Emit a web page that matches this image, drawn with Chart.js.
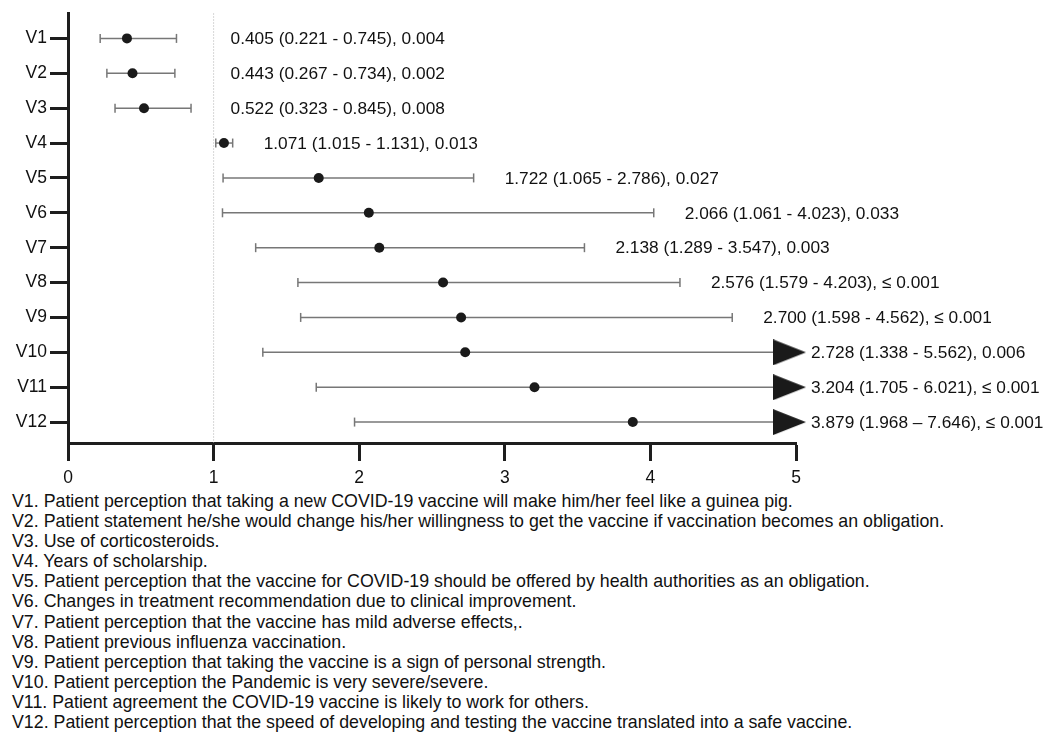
<!DOCTYPE html>
<html><head><meta charset="utf-8">
<script src="https://cdn.jsdelivr.net/npm/chart.js@4"></script>
<style>
html,body{margin:0;padding:0;background:#fff;width:1048px;height:734px;overflow:hidden;}
#wrap{position:absolute;left:0;top:0;width:1048px;height:490px;}
#notes{position:absolute;left:12px;top:491px;font-family:"Liberation Sans",Arial,sans-serif;font-size:17.8px;line-height:20.1px;color:#111;white-space:nowrap;}
</style></head><body>
<div id="wrap"><canvas id="c" width="1048" height="490"></canvas></div>
<div id="notes"></div>
<script>
const categories = ['V1','V2','V3','V4','V5','V6','V7','V8','V9','V10','V11','V12'];
const oddsRatio = [0.405,0.443,0.522,1.071,1.722,2.066,2.138,2.576,2.700,2.728,3.204,3.879];
const ciLower   = [0.221,0.267,0.323,1.015,1.065,1.061,1.289,1.579,1.598,1.338,1.705,1.968];
const ciUpper   = [0.745,0.734,0.845,1.131,2.786,4.023,3.547,4.203,4.562,5.562,6.021,7.646];
const pValues   = ['0.004','0.002','0.008','0.013','0.027','0.033','0.003','≤ 0.001','≤ 0.001','0.006','≤ 0.001','≤ 0.001'];
const rangeSeparators = ['-','-','-','-','-','-','-','-','-','-','-','–'];
const xTickValues = [0,1,2,3,4,5];
const referenceValue = 1;
const descriptions = [
 'V1. Patient perception that taking a new COVID-19 vaccine will make him/her feel like a guinea pig.',
 'V2. Patient statement he/she would change his/her willingness to get the vaccine if vaccination becomes an obligation.',
 'V3. Use of corticosteroids.',
 'V4. Years of scholarship.',
 'V5. Patient perception that the vaccine for COVID-19 should be offered by health authorities as an obligation.',
 'V6. Changes in treatment recommendation due to clinical improvement.',
 'V7. Patient perception that the vaccine has mild adverse effects,.',
 'V8. Patient previous influenza vaccination.',
 'V9. Patient perception that taking the vaccine is a sign of personal strength.',
 'V10. Patient perception the Pandemic is very severe/severe.',
 'V11. Patient agreement the COVID-19 vaccine is likely to work for others.',
 'V12. Patient perception that the speed of developing and testing the vaccine translated into a safe vaccine.'
];

document.getElementById('notes').innerHTML = descriptions.map(d => '<div>' + d.replace(/&/g,'&amp;').replace(/</g,'&lt;') + '</div>').join('');

const X_MIN = 0, X_MAX = 5, Y_MIN = 0.286, Y_MAX = 12.6;
const FONT = '"Liberation Sans", Arial, sans-serif';
const AXIS = '#1e1e1e';
const CI_COLOR = '#777777';

// arrow head image for truncated intervals
const arrow = document.createElement('canvas');
arrow.width = 46; arrow.height = 26;
(function(){
  const g = arrow.getContext('2d');
  g.fillStyle = '#1a1a1a';
  g.beginPath(); g.moveTo(0,0); g.lineTo(33,13); g.lineTo(0,26); g.closePath(); g.fill();
})();

const datasets = [];
datasets.push({
  type:'scatter', order:0, clip:false,
  data: oddsRatio.map((v,i)=>({x:v,y:i+1})),
  pointRadius:5, pointBackgroundColor:'#1a1a1a', pointBorderColor:'#1a1a1a', pointBorderWidth:0,
  pointHoverRadius:5
});
categories.forEach((c,i)=>{
  const truncated = ciUpper[i] > X_MAX;
  datasets.push({
    type:'scatter', order:1, clip:false, showLine:true,
    data:[{x:ciLower[i],y:i+1},{x:Math.min(ciUpper[i],X_MAX),y:i+1}],
    borderColor:CI_COLOR, borderWidth:1.5,
    pointStyle: ['line', truncated ? arrow : 'line'],
    pointRotation: [90, truncated ? 0 : 90],
    pointRadius:4.5, pointBorderColor:CI_COLOR, pointBorderWidth:1.5, pointBackgroundColor:CI_COLOR
  });
});
datasets.push({
  type:'scatter', order:2, clip:false, showLine:true,
  data:[{x:referenceValue,y:Y_MIN},{x:referenceValue,y:Y_MAX}],
  borderColor:'#b0b0b0', borderWidth:1, borderDash:[1,2], pointRadius:0
});

const labelPlugin = {
  id:'orLabels',
  afterDatasetsDraw(chart){
    const ctx = chart.ctx, xs = chart.scales.x, ys = chart.scales.y;
    const refPx = xs.getPixelForValue(referenceValue);
    ctx.save();
    ctx.font = '17.3px ' + FONT;
    ctx.fillStyle = '#111';
    ctx.textBaseline = 'middle';
    ctx.textAlign = 'left';
    categories.forEach((c,i)=>{
      const txt = oddsRatio[i].toFixed(3) + ' (' + ciLower[i].toFixed(3) + ' ' + rangeSeparators[i] + ' ' + ciUpper[i].toFixed(3) + '), ' + pValues[i];
      let sx;
      if (ciUpper[i] > X_MAX) sx = xs.getPixelForValue(X_MAX) + 15;
      else if (ciUpper[i] < referenceValue) sx = refPx + 17;
      else sx = xs.getPixelForValue(ciUpper[i]) + 31;
      ctx.fillText(txt, sx, ys.getPixelForValue(i+1) + 1);
    });
    ctx.restore();
  }
};

new Chart(document.getElementById('c'), {
  type:'scatter',
  data:{datasets},
  options:{
    responsive:false, animation:false, events:[],
    layout:{padding:{top:12,right:252,left:0,bottom:0}},
    plugins:{legend:{display:false},tooltip:{enabled:false}},
    scales:{
      x:{
        type:'linear', min:X_MIN, max:X_MAX,
        afterBuildTicks(s){ s.ticks = xTickValues.map(v=>({value:v})); },
        afterFit(s){ s.height = 47; },
        grid:{drawOnChartArea:false, drawTicks:true, tickLength:18, tickWidth:3, tickColor:AXIS},
        border:{display:true, color:AXIS, width:3},
        ticks:{font:{family:FONT,size:17.5}, color:'#111', padding:7, maxRotation:0}
      },
      y:{
        type:'linear', reverse:true, min:Y_MIN, max:Y_MAX,
        afterBuildTicks(s){ s.ticks = categories.map((c,i)=>({value:i+1})); },
        afterFit(s){ s.width = 68; },
        grid:{drawOnChartArea:false, drawTicks:true, tickLength:18, tickWidth:3, tickColor:AXIS},
        border:{display:true, color:AXIS, width:3},
        ticks:{font:{family:FONT,size:17.5}, color:'#111', padding:3, callback:(v)=>categories[Math.round(v)-1]}
      }
    }
  },
  plugins:[labelPlugin]
});
</script>
</body></html>
